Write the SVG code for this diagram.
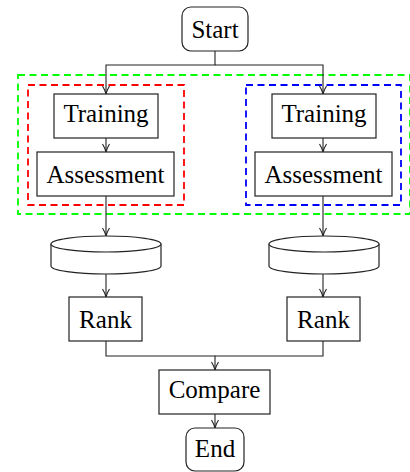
<svg xmlns="http://www.w3.org/2000/svg" width="410" height="472" viewBox="0 0 410 472">
<style>
.box{fill:#fff;stroke:#222;stroke-width:1.2}
.t{font-family:'Liberation Serif','Times New Roman',Times,serif;font-size:25px;fill:#000;text-anchor:middle}
.c{fill:none;stroke:#222;stroke-width:1.1}
.d{fill:none;stroke-width:1.8;stroke-dasharray:7,4.5}
</style>
<defs>
<marker id="a" viewBox="0 0 10 10" refX="10" refY="5" markerWidth="10" markerHeight="10" markerUnits="userSpaceOnUse" orient="auto">
<path d="M2,1.5 Q6,4 10,5 Q6,6 2,8.5" fill="none" stroke="#222" stroke-width="1.1"/>
</marker>
</defs>
<g id="groups">
<rect class="d" x="18" y="75" width="392" height="139" stroke="#00ff00"/>
<rect class="d" x="28" y="85" width="156" height="120" stroke="#ff0000"/>
<rect class="d" x="246" y="85" width="155" height="120" stroke="#0000ff"/>
</g>
<g id="connectors">
<path class="c" d="M215,51 V65 H106 V94" marker-end="url(#a)"/>
<path class="c" d="M215,65 H323 V94" marker-end="url(#a)"/>
<path class="c" d="M106,138 V152" marker-end="url(#a)"/>
<path class="c" d="M323,138 V152" marker-end="url(#a)"/>
<path class="c" d="M106,196 V236" marker-end="url(#a)"/>
<path class="c" d="M323,196 V236" marker-end="url(#a)"/>
<path class="c" d="M106,274 V297" marker-end="url(#a)"/>
<path class="c" d="M323,274 V297" marker-end="url(#a)"/>
<path class="c" d="M106,341 V356 H215 V370" marker-end="url(#a)"/>
<path class="c" d="M323,341 V356 H215"/>
<path class="c" d="M215,414 V428" marker-end="url(#a)"/>
</g>
<g id="start"><rect class="box" x="182" y="7" width="66" height="44" rx="9"/><text class="t" font-family="Liberation Serif" x="215" y="38">Start</text></g>
<g id="training1"><rect class="box" x="54" y="94" width="104" height="44"/><text class="t" x="106" y="122">Training</text></g>
<g id="assessment1"><rect class="box" x="37" y="152" width="137" height="44"/><text class="t" x="105.5" y="183">Assessment</text></g>
<g id="training2"><rect class="box" x="272" y="94" width="104" height="44"/><text class="t" x="324" y="122">Training</text></g>
<g id="assessment2"><rect class="box" x="255" y="152" width="137" height="44"/><text class="t" x="323.5" y="183">Assessment</text></g>
<g id="db1"><path class="box" d="M51,244 V266 A55,8 0 0 0 161,266 V244"/><ellipse class="box" cx="106" cy="244" rx="55" ry="8"/></g>
<g id="db2"><path class="box" d="M269,244 V266 A55,8 0 0 0 379,266 V244"/><ellipse class="box" cx="324" cy="244" rx="55" ry="8"/></g>
<g id="rank1"><rect class="box" x="69" y="297" width="73" height="44"/><text class="t" x="105.5" y="328">Rank</text></g>
<g id="rank2"><rect class="box" x="287" y="297" width="73" height="44"/><text class="t" x="323.5" y="328">Rank</text></g>
<g id="compare"><rect class="box" x="159" y="370" width="111" height="44"/><text class="t" x="214.5" y="398">Compare</text></g>
<g id="end"><rect class="box" x="186" y="428" width="58" height="43" rx="9"/><text class="t" x="215" y="457">End</text></g>
</svg>
